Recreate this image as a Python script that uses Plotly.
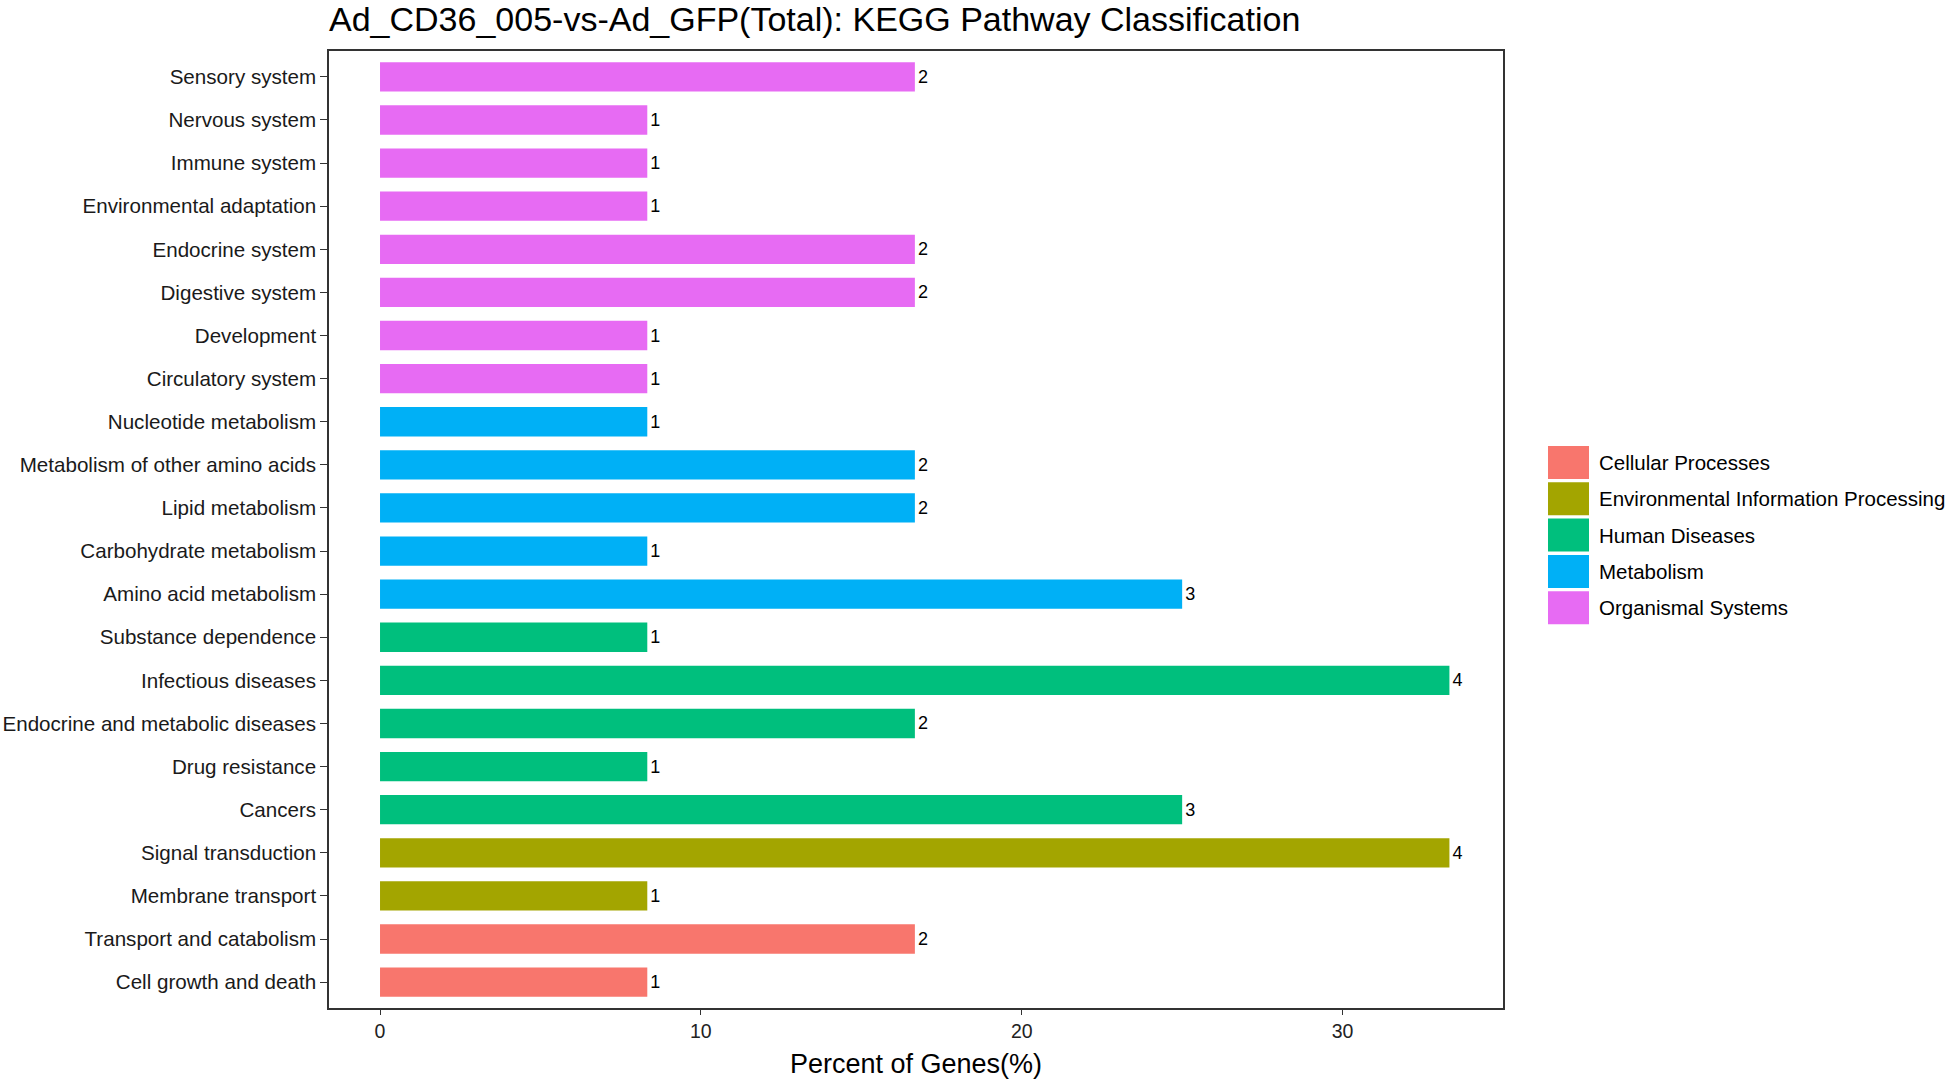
import plotly.graph_objects as go

# ---- data (bottom to top) ----
pathways = [
    "Cell growth and death", "Transport and catabolism",
    "Membrane transport", "Signal transduction",
    "Cancers", "Drug resistance", "Endocrine and metabolic diseases",
    "Infectious diseases", "Substance dependence",
    "Amino acid metabolism", "Carbohydrate metabolism", "Lipid metabolism",
    "Metabolism of other amino acids", "Nucleotide metabolism",
    "Circulatory system", "Development", "Digestive system", "Endocrine system",
    "Environmental adaptation", "Immune system", "Nervous system", "Sensory system",
]
classes = [
    "Cellular Processes", "Cellular Processes",
    "Environmental Information Processing", "Environmental Information Processing",
    "Human Diseases", "Human Diseases", "Human Diseases", "Human Diseases", "Human Diseases",
    "Metabolism", "Metabolism", "Metabolism", "Metabolism", "Metabolism",
    "Organismal Systems", "Organismal Systems", "Organismal Systems", "Organismal Systems",
    "Organismal Systems", "Organismal Systems", "Organismal Systems", "Organismal Systems",
]
gene_counts = [1, 2, 1, 4, 3, 1, 2, 4, 1, 3, 1, 2, 2, 1, 1, 1, 2, 2, 1, 1, 1, 2]
percent = [8.33, 16.67, 8.33, 33.33, 25.0, 8.33, 16.67, 33.33, 8.33, 25.0, 8.33,
           16.67, 16.67, 8.33, 8.33, 8.33, 16.67, 16.67, 8.33, 8.33, 8.33, 16.67]

class_names = ["Cellular Processes", "Environmental Information Processing",
               "Human Diseases", "Metabolism", "Organismal Systems"]
class_colors = ["#F8766D", "#A3A500", "#00BF7D", "#00B0F6", "#E76BF3"]
x_ticks = [0, 10, 20, 30]

FONT = "Liberation Sans, Arial, Helvetica, sans-serif"

fig = go.Figure()
for cname, ccol in zip(class_names, class_colors):
    idx = [i for i, c in enumerate(classes) if c == cname]
    fig.add_trace(go.Bar(
        x=[percent[i] for i in idx],
        y=[pathways[i] for i in idx],
        orientation="h",
        name=cname,
        marker=dict(color=ccol, line=dict(width=0)),
        width=0.68,
        text=[str(gene_counts[i]) for i in idx],
        textposition="outside",
        textfont=dict(family=FONT, size=18, color="black"),
        cliponaxis=False,
        showlegend=False,
    ))

W, H = 1946, 1079
# panel geometry in page pixels
L, R, T, B = 329, 1503, 51, 1008

fig.update_layout(
    width=W, height=H,
    margin=dict(l=L, r=W - R, t=T, b=H - B, autoexpand=False),
    plot_bgcolor="white", paper_bgcolor="white",
    font=dict(family=FONT, color="black"),
    title=dict(
        text="Ad_CD36_005-vs-Ad_GFP(Total): KEGG Pathway Classification",
        x=0, xref="paper", xanchor="left",
        y=1 - 19 / H, yref="container", yanchor="middle",
        font=dict(family=FONT, size=34, color="black"),
    ),
    xaxis=dict(
        automargin=False,
        range=[-1.59, 35.0],
        tickvals=x_ticks, ticktext=[str(v) for v in x_ticks],
        ticks="outside", ticklen=5, tickwidth=1.2, tickcolor="#333333",
        tickfont=dict(family=FONT, size=19.5, color="#222222"),
        showgrid=False, zeroline=False,
        showline=True, linecolor="#333333", linewidth=1.5, mirror=True,
        title=dict(text="Percent of Genes(%)", font=dict(family=FONT, size=27, color="black"),
                   standoff=13),
    ),
    yaxis=dict(
        automargin=False,
        categoryorder="array", categoryarray=pathways,
        range=[-0.6, len(pathways) - 0.4],
        ticks="outside", ticklen=7, tickwidth=1.2, tickcolor="#333333",
        tickfont=dict(family=FONT, size=20.6, color="#1a1a1a"),
        showgrid=False, zeroline=False,
        showline=True, linecolor="#333333", linewidth=1.5, mirror=True,
    ),
)

# custom ggplot-style legend (page pixel positions)
pw, ph = R - L, B - T
key_left, key_w, key_h, step, first_c = 1548, 41, 33, 36.3, 462.5
for k, (cname, ccol) in enumerate(zip(class_names, class_colors)):
    cy = first_c + k * step
    fig.add_shape(type="rect", xref="paper", yref="paper",
                  x0=(key_left - L) / pw, x1=(key_left + key_w - L) / pw,
                  y0=(B - (cy + key_h / 2)) / ph, y1=(B - (cy - key_h / 2)) / ph,
                  fillcolor=ccol, line=dict(width=0))
    fig.add_annotation(xref="paper", yref="paper",
                       x=(1597 - L) / pw, y=(B - cy) / ph,
                       text=cname, showarrow=False, xanchor="left", yanchor="middle",
                       font=dict(family=FONT, size=20.5, color="black"))

fig.write_html(
    "out.html",
    config={"displayModeBar": False},
    post_script="document.body.style.margin='0';document.body.style.overflow='hidden';",
)
